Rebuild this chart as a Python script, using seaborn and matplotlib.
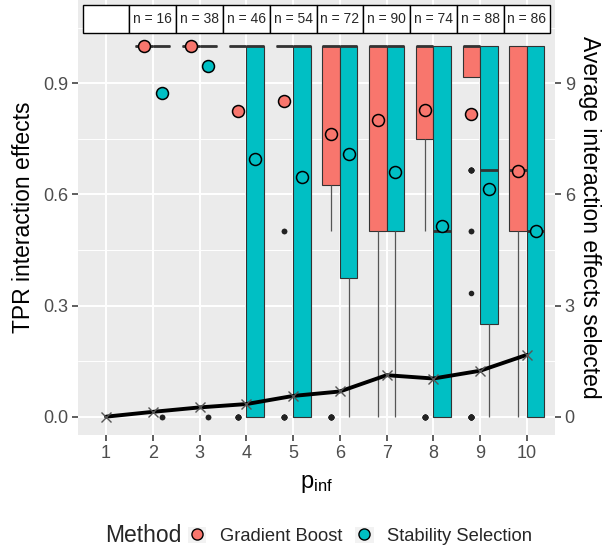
import numpy as np
import pandas as pd
import matplotlib
matplotlib.use("Agg")
import matplotlib.pyplot as plt
import seaborn as sns
from matplotlib.lines import Line2D
from matplotlib.patches import Patch, Rectangle

# ---------------- data ----------------
p_inf = [1, 2, 3, 4, 5, 6, 7, 8, 9, 10]
methods = ["Gradient Boost", "Stability Selection"]
method_colors = ["#F8766D", "#00BFC4"]

# TPR levels observed in the runs
tpr_levels = [0.0, 1 / 3, 0.5, 2 / 3, 1.0]

# number of runs at each TPR level (order as tpr_levels), per p_inf
gb_counts = {
    2: [0, 0, 0, 0, 16],
    3: [0, 0, 0, 0, 38],
    4: [8, 0, 0, 0, 38],
    5: [7, 0, 2, 0, 45],
    6: [8, 0, 10, 12, 42],
    7: [6, 0, 24, 0, 60],
    8: [8, 0, 6, 5, 55],
    9: [12, 1, 2, 7, 66],
    10: [13, 0, 16, 24, 33],
}
ss_counts = {
    2: [2, 0, 0, 0, 14],
    3: [2, 0, 0, 0, 36],
    4: [14, 0, 0, 0, 32],
    5: [19, 0, 0, 0, 35],
    6: [18, 0, 6, 0, 48],
    7: [17, 0, 27, 0, 46],
    8: [26, 0, 20, 0, 28],
    9: [22, 6, 6, 15, 39],
    10: [28, 0, 30, 0, 28],
}

# average number of interaction effects selected (secondary axis)
avg_selected = [0.0, 0.13, 0.25, 0.34, 0.56, 0.68, 1.12, 1.03, 1.24, 1.67]

# ---------------- build long table ----------------
rows = []
for method, counts in zip(methods, [gb_counts, ss_counts]):
    for p, cnts in counts.items():
        for lvl, c in zip(tpr_levels, cnts):
            rows += [{"p": p, "tpr": lvl, "method": method}] * c
df = pd.DataFrame(rows)
n_per_p = df[df.method == methods[0]].groupby("p").size()

line_df = pd.DataFrame({"p": p_inf, "avg": np.array(avg_selected) / 10})

# ---------------- style ----------------
sns.set_style("ticks")
plt.rcParams["font.family"] = ["Liberation Sans", "DejaVu Sans"]
plt.rcParams["mathtext.fontset"] = "custom"
plt.rcParams["mathtext.rm"] = "Liberation Sans"
plt.rcParams["mathtext.it"] = "Liberation Sans:italic"

fig = plt.figure(figsize=(6.10, 5.52), dpi=100)
W, H = 610, 552
ax = fig.add_axes([78 / W, 117 / H, (555 - 78) / W, 435 / H])
ax.set_facecolor("#EBEBEB")

sns.boxplot(
    data=df, x="p", y="tpr", hue="method", hue_order=methods,
    palette=method_colors, native_scale=True, width=0.75, gap=0,
    dodge=True, linecolor="#333333", linewidth=0.8, showcaps=False,
    saturation=1,
    fliersize=3.0,
    flierprops=dict(marker="o", markerfacecolor="#222222",
                    markeredgecolor="#222222"),
    medianprops=dict(linewidth=2.0, color="#333333"),
    whiskerprops=dict(color="#555555", linewidth=0.9),
    ax=ax, legend=False,
)

sns.lineplot(
    data=line_df, x="p", y="avg", color="black", linewidth=2.8,
    marker="x", markersize=7, markeredgecolor="#555555",
    markeredgewidth=1.0, ax=ax, zorder=4,
)

sns.pointplot(
    data=df, x="p", y="tpr", hue="method", hue_order=methods,
    palette=method_colors, native_scale=True, dodge=0.375,
    errorbar=None, linestyle="none", marker="o", markersize=8.6,
    markeredgecolor="black", markeredgewidth=1.1, ax=ax, legend=False,
    zorder=5,
)

# ---------------- axes ----------------
ax.set_xlim(0.4, 10.6)
ax.set_ylim(-0.0495, 1.125)
ax.set_xticks(p_inf)
ax.set_xticklabels([str(p) for p in p_inf])
ax.set_yticks([0.0, 0.3, 0.6, 0.9])
ax.set_yticklabels(["0.0", "0.3", "0.6", "0.9"])
ax.set_yticks([0.15, 0.45, 0.75, 1.05], minor=True)
ax.set_axisbelow(True)
ax.grid(which="major", color="white", linewidth=1.4)
ax.grid(which="minor", axis="y", color="white", linewidth=0.7)
ax.tick_params(which="major", length=4, width=1.1, color="#333333",
               labelsize=13, labelcolor="#4D4D4D", pad=3)
ax.tick_params(which="minor", length=0)
for s in ax.spines.values():
    s.set_visible(False)

ax.set_ylabel("TPR interaction effects", fontsize=16.5, color="black",
              labelpad=6)
ax.set_xlabel(r"$\mathrm{p}_{\mathrm{inf}}$", fontsize=17, color="black",
              labelpad=8)

secax = ax.secondary_yaxis("right", functions=(lambda y: y * 10,
                                                lambda y: y / 10))
secax.set_yticks([0, 3, 6, 9])
secax.set_yticklabels(["0", "3", "6", "9"])
secax.tick_params(length=4, width=1.1, color="#333333", labelsize=13,
                  labelcolor="#4D4D4D", pad=3)
for s in secax.spines.values():
    s.set_visible(False)
secax.set_ylabel("Average interaction effects selected", fontsize=16.5,
                 rotation=270, labelpad=19, color="black")

# ---------------- n strip ----------------
y0, y1 = 1.0346, 1.1115
for p in p_inf:
    ax.add_patch(Rectangle((p - 0.5, y0), 1, y1 - y0, facecolor="white",
                           edgecolor="black", linewidth=1.0, zorder=6,
                           clip_on=False))
    if p in n_per_p.index:
        ax.text(p, (y0 + y1) / 2, f"n = {n_per_p[p]}", ha="center",
                va="center", fontsize=10, zorder=7)

# ---------------- legend ----------------
handles = []
for c in method_colors:
    handles.append((Patch(facecolor="#F2F2F2", edgecolor="none"),
                    Line2D([], [], marker="o", linestyle="none",
                           markerfacecolor=c, markeredgecolor="black",
                           markersize=8, markeredgewidth=1.0)))
fig.text(105 / W, 1 - 536 / H, "Method", fontsize=16.5, ha="left",
         va="center")
fig.legend(handles, methods, ncol=2, loc="center left",
           bbox_to_anchor=(188 / W, 1 - 536 / H), frameon=False,
           fontsize=13.2, handlelength=1.0, handleheight=1.0,
           handletextpad=0.75, columnspacing=0.7, borderpad=0,
           borderaxespad=0)

fig.savefig("out.png", dpi=100)
